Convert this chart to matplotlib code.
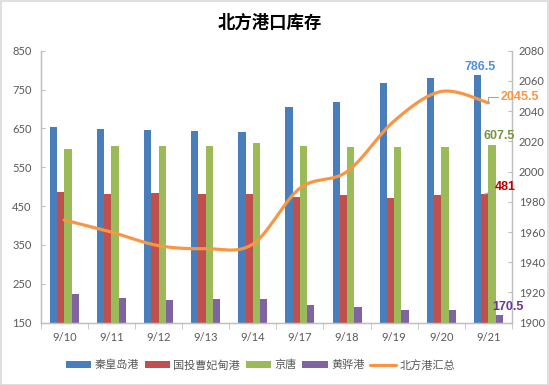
import numpy as np
import matplotlib
matplotlib.use("Agg")
import matplotlib.pyplot as plt
from matplotlib.patches import Rectangle

plt.rcParams['font.family'] = ['Lato', 'Noto Sans CJK SC', 'DejaVu Sans']

# data
dates = ['9/10', '9/11', '9/12', '9/13', '9/14', '9/17', '9/18', '9/19', '9/20', '9/21']
qhd = [654, 648.5, 646, 643, 641, 705, 718, 766.5, 778.5, 786.5]
cfd = [486, 480.5, 483, 480.5, 480.5, 474.5, 479, 471, 479, 481]
jt = [598, 605.5, 605.5, 605.5, 612.5, 605, 602, 602, 602, 607.5]
hh = [223, 213.5, 209, 212, 212, 195.5, 190, 183.5, 183.5, 170.5]
total = [1968, 1960, 1951, 1949, 1952, 1989, 2000, 2033.5, 2053, 2045.5]

names = ['秦皇岛港', '国投曹妃甸港', '京唐', '黄骅港', '北方港汇总']
colors = ['#4A7EBB', '#C0504D', '#9BBB59', '#8064A2', '#F79646']
grey = '#595959'
axis_c = '#BFBFBF'
lab_font = ['Liberation Sans', 'DejaVu Sans']


def smooth(x, y, n=30):
    # excel-style smoothed line (catmull-rom bezier)
    x = np.asarray(x, float)
    y = np.asarray(y, float)
    p = np.column_stack((x, y))
    p = np.vstack((p[0], p, p[-1]))
    out = []
    t = np.linspace(0, 1, n)[:, None]
    for i in range(1, len(p) - 2):
        p0, p1, p2, p3 = p[i - 1], p[i], p[i + 1], p[i + 2]
        c1 = p1 + (p2 - p0) / 6
        c2 = p2 - (p3 - p1) / 6
        seg = (1 - t) ** 3 * p1 + 3 * (1 - t) ** 2 * t * c1 + 3 * (1 - t) * t ** 2 * c2 + t ** 3 * p2
        out.append(seg)
    out = np.vstack(out)
    return out[:, 0], out[:, 1]


fig = plt.figure(figsize=(5.49, 3.85), dpi=100)
ax = fig.add_axes([0.0741, 0.1618, 0.8585, 0.7065])
ax2 = ax.twinx()

x = np.arange(len(dates))
w = 0.154
handles = []
for k, vals in enumerate([qhd, cfd, jt, hh]):
    b = ax.bar(x + (k - 1.5) * w, vals, width=w, color=colors[k], label=names[k], zorder=2)
    handles.append(b)

sx, sy = smooth(x, total)
ln, = ax2.plot(sx, sy, color=colors[4], lw=2.3, solid_capstyle='round', label=names[4])
handles.append(ln)

ax.set_xlim(-0.5, len(dates) - 0.5)
ax.set_ylim(150, 850)
ax.set_yticks(np.arange(150, 851, 100))
ax2.set_ylim(1900, 2080)
ax2.set_yticks(np.arange(1900, 2081, 20))

ax.set_xticks(x)
ax.set_xticklabels(dates)
ax.set_xticks(np.arange(-0.5, len(dates)), minor=True)
ax.tick_params(axis='x', which='major', length=0, pad=6.5, labelsize=8, labelcolor=grey)
ax.tick_params(axis='x', which='minor', length=4, color=axis_c, direction='out')
ax.tick_params(axis='y', length=3, direction='in', color=axis_c, pad=6.5, labelsize=8, labelcolor=grey)
ax2.tick_params(axis='y', length=3, direction='in', color=axis_c, pad=5, labelsize=8, labelcolor=grey)

for a in (ax, ax2):
    a.spines['top'].set_visible(False)
    for s in ('left', 'right', 'bottom'):
        a.spines[s].set_color(axis_c)
        a.spines[s].set_linewidth(0.9)

# value labels on the last day
i = len(dates) - 1
lab = dict(fontsize=9, fontweight='bold', family=lab_font, zorder=5)
ax2.annotate('786.5', (x[i] - 1.5 * w, 1900 + (qhd[i] - 150) * 180 / 700), xytext=(3, 2),
             textcoords='offset pixels', ha='center', va='bottom', color='#4F8FDB', **lab)
ax2.annotate('607.5', (x[i] + 0.5 * w, 1900 + (jt[i] - 150) * 180 / 700), xytext=(7, 3),
             textcoords='offset pixels', ha='center', va='bottom', color='#77933C', **lab)
ax2.annotate('481', (x[i] - 0.5 * w, 1900 + (cfd[i] - 150) * 180 / 700), xytext=(10, 7),
             textcoords='offset pixels', ha='left', va='center', color='#C00000',
             arrowprops=dict(arrowstyle='-', color='#A6A6A6', lw=0.8, shrinkA=0, shrinkB=0), **lab)
ax2.annotate('170.5', (x[i] + 1.5 * w, 1900 + (hh[i] - 150) * 180 / 700), xytext=(9, 2),
             textcoords='offset pixels', ha='center', va='bottom', color='#7030A0', **lab)
ax2.annotate('2045.5', (x[i], total[i]), xytext=(12, 6), textcoords='offset pixels',
             ha='left', va='center', color=colors[4],
             arrowprops=dict(arrowstyle='-', color='#A6A6A6', lw=0.8, shrinkA=0, shrinkB=0,
                             connectionstyle='angle,angleA=0,angleB=90,rad=0'), **lab)

fig.text(0.492, 0.941, '北方港口库存', ha='center', va='center', fontsize=12.5,
         fontweight='bold', family=['Noto Sans CJK SC'])

fig.legend(handles=handles, labels=names, loc='center', bbox_to_anchor=(0.474, 0.052),
           ncol=5, frameon=False, handlelength=2.3, handleheight=0.7,
           handletextpad=0.3, columnspacing=0.5, labelcolor=grey,
           prop={'family': ['Noto Sans CJK SC'], 'size': 8})

fig.patches.append(Rectangle((0.001, 0.001), 0.997, 0.997, transform=fig.transFigure,
                             fill=False, edgecolor='#D9D9D9', lw=1.2))

fig.savefig('out.png', dpi=100)
